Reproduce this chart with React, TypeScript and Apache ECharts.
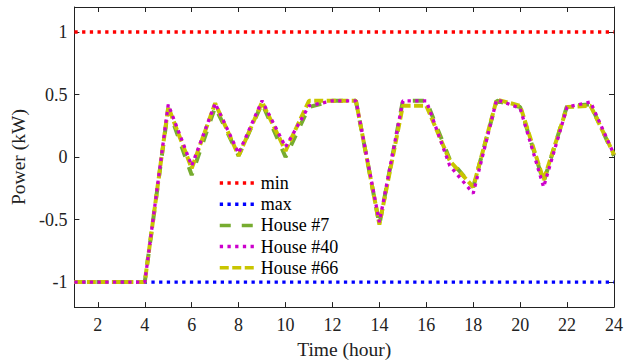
import React, { useEffect, useRef } from "react";
import * as echarts from "echarts";

const hours = [1, 2, 3, 4, 5, 6, 7, 8, 9, 10, 11, 12, 13, 14, 15, 16, 17, 18, 19, 20, 21, 22, 23, 24];
const xTicks = [2, 4, 6, 8, 10, 12, 14, 16, 18, 20, 22, 24];
const yTicks = [-1, -0.5, 0, 0.5, 1];
const minLimit = 1;
const maxLimit = -1;
const house7 = [-1, -1, -1, -1, 0.39, -0.145, 0.4, 0.01, 0.43, 0.0, 0.4, 0.45, 0.45, -0.54, 0.45, 0.45, -0.02, -0.24, 0.45, 0.4, -0.2, 0.41, 0.42, 0.01];
const house40 = [-1, -1, -1, -1, 0.42, -0.07, 0.43, 0.03, 0.45, 0.08, 0.41, 0.45, 0.45, -0.52, 0.45, 0.45, -0.07, -0.29, 0.46, 0.39, -0.24, 0.4, 0.44, 0.02];
const house66 = [-1, -1, -1, -1, 0.4, -0.09, 0.43, 0.01, 0.44, 0.05, 0.45, 0.45, 0.45, -0.54, 0.41, 0.41, -0.03, -0.24, 0.46, 0.41, -0.185, 0.4, 0.41, 0.02];

const FONT = "Liberation Serif";

export default function App() {
  const ref = useRef<HTMLDivElement>(null);
  useEffect(() => {
    if (!ref.current) return;
    const chart = echarts.init(ref.current, undefined, { renderer: "svg" });
    const axisCommon = {
      axisLine: { show: true, onZero: false, lineStyle: { color: "#222", width: 1 } },
      splitLine: { show: false },
    };
    const mk = (arr: number[]) => hours.map((h, i) => [h, arr[i]]);
    const constLine = (v: number) => hours.map((h) => [h, v]);
    chart.setOption({
      animation: false,
      backgroundColor: "#fff",
      textStyle: { fontFamily: FONT },
      grid: { left: 73, right: 16, top: 7, bottom: 55, containLabel: false },
      xAxis: [
        {
          type: "value",
          min: 1,
          max: 24,
          position: "bottom",
          ...axisCommon,
          axisTick: { show: true, inside: true, length: 5, customValues: xTicks, lineStyle: { color: "#222" } },
          axisLabel: {
            customValues: xTicks,
            margin: 9,
            color: "#222",
            fontFamily: FONT,
            fontSize: 18,
          },
          name: "Time (hour)",
          nameLocation: "middle",
          nameGap: 31,
          nameTextStyle: { color: "#222", fontFamily: FONT, fontSize: 19.5 },
        },
        {
          type: "value",
          min: 1,
          max: 24,
          position: "top",
          ...axisCommon,
          axisTick: { show: true, inside: true, length: 5, customValues: xTicks, lineStyle: { color: "#222" } },
          axisLabel: { show: false },
        },
      ],
      yAxis: [
        {
          type: "value",
          min: -1.2,
          max: 1.2,
          position: "left",
          ...axisCommon,
          axisTick: { show: true, inside: true, length: 5, customValues: yTicks, lineStyle: { color: "#222" } },
          axisLabel: {
            customValues: yTicks,
            margin: 7,
            color: "#222",
            fontFamily: FONT,
            fontSize: 18,
            formatter: (v: number) => String(v),
          },
          name: "Power (kW)",
          nameLocation: "middle",
          nameGap: 36,
          nameTextStyle: { color: "#222", fontFamily: FONT, fontSize: 19.5 },
        },
        {
          type: "value",
          min: -1.2,
          max: 1.2,
          position: "right",
          ...axisCommon,
          axisTick: { show: true, inside: true, length: 5, customValues: yTicks, lineStyle: { color: "#222" } },
          axisLabel: { show: false },
        },
      ],
      legend: {
        orient: "vertical",
        left: 213,
        top: 169,
        itemWidth: 36,
        itemHeight: 14,
        itemGap: 3.2,
        selectedMode: false,
        textStyle: { color: "#000", fontFamily: FONT, fontSize: 18, lineHeight: 14 },
        itemStyle: { opacity: 0, color: "transparent", borderWidth: 0 },
        lineStyle: { width: 3.5 },
        data: ["min", "max", "House #7", "House #40", "House #66"],
      },
      series: [
        {
          name: "min",
          type: "line",
          data: constLine(minLimit),
          symbol: "none",
          z: 2,
          lineStyle: { color: "#FF0000", width: 3.3, type: [3.3, 4.4] },
          itemStyle: { color: "#FF0000" },
        },
        {
          name: "max",
          type: "line",
          data: constLine(maxLimit),
          symbol: "none",
          z: 2,
          lineStyle: { color: "#0000FF", width: 3.3, type: [3.3, 4.4] },
          itemStyle: { color: "#0000FF" },
        },
        {
          name: "House #7",
          type: "line",
          data: mk(house7),
          symbol: "none",
          z: 3,
          lineStyle: { color: "#77AC30", width: 4, type: [11, 11] },
          itemStyle: { color: "#77AC30" },
        },
        {
          name: "House #66",
          type: "line",
          data: mk(house66),
          symbol: "none",
          z: 4,
          lineStyle: { color: "#C9C500", width: 4, type: [9, 3.5] },
          itemStyle: { color: "#C9C500" },
        },
        {
          name: "House #40",
          type: "line",
          data: mk(house40),
          symbol: "none",
          z: 5,
          lineStyle: { color: "#CC00CC", width: 3.3, type: [3.3, 4.4] },
          itemStyle: { color: "#CC00CC" },
        },
      ],
    });
    return () => chart.dispose();
  }, []);
  return <div ref={ref} style={{ width: 630, height: 364, position: "absolute", left: 0, top: 0 }} />;
}
